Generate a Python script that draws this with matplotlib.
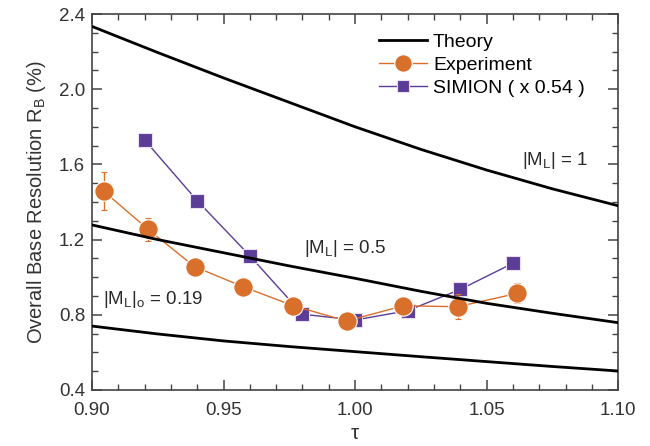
import numpy as np
import matplotlib.pyplot as plt
from matplotlib.ticker import MultipleLocator

plt.rcParams['font.family'] = ['Liberation Sans', 'DejaVu Sans']
plt.rcParams['mathtext.default'] = 'regular'

# theory curves
tau_theory = [0.90, 0.925, 0.95, 0.975, 1.00, 1.025, 1.05, 1.075, 1.10]
theory_ml1 = [2.334, 2.195, 2.06, 1.93, 1.80, 1.68, 1.57, 1.47, 1.38]
theory_ml05 = [1.278, 1.20, 1.13, 1.06, 0.994, 0.925, 0.861, 0.808, 0.758]
theory_ml019 = [0.740, 0.698, 0.661, 0.631, 0.604, 0.577, 0.551, 0.525, 0.501]

# experiment
tau_exp = [0.9044, 0.9213, 0.939, 0.9575, 0.9765, 0.9968, 1.0184, 1.039, 1.0617]
r_exp = [1.458, 1.255, 1.056, 0.949, 0.848, 0.767, 0.848, 0.843, 0.914]
err_exp = [0.10, 0.06, 0.02, 0.02, 0.02, 0.02, 0.02, 0.065, 0.053]

# SIMION (scaled x 0.54)
tau_sim = [0.92, 0.94, 0.96, 0.98, 1.00, 1.02, 1.04, 1.06]
r_sim = [1.730, 1.407, 1.114, 0.803, 0.772, 0.822, 0.935, 1.074]

orange = '#D8702B'
purple = '#5B3C97'
grey = '#444444'
txt = '#2a2a2a'

fig = plt.figure(figsize=(6.5, 4.46), dpi=100)
ax = fig.add_axes([0.1415, 0.1256, 0.8095, 0.843])

h_th, = ax.plot(tau_theory, theory_ml1, color='black', lw=2.0, zorder=4)
ax.plot(tau_theory, theory_ml05, color='black', lw=2.0, zorder=4)
ax.plot(tau_theory, theory_ml019, color='black', lw=2.0, zorder=4)

h_exp = ax.errorbar(tau_exp, r_exp, yerr=err_exp, color=orange, lw=1.0, marker='o',
                    ms=14, mec='white', mew=0.8, capsize=2.5, elinewidth=1.0,
                    zorder=3)
h_sim, = ax.plot(tau_sim, r_sim, color=purple, lw=1.0, marker='s', ms=10,
                 mec='#E8E0F0', mew=0.8, zorder=2)

ax.text(1.0635, 1.62, '|M$_L$| = 1', fontsize=13.5, va='center', color=txt)
ax.text(0.9806, 1.15, '|M$_L$| = 0.5', fontsize=13.5, va='center', color=txt)
ax.text(0.9042, 0.88, '|M$_L$|$_o$ = 0.19', fontsize=13.5, va='center', color=txt)

ax.set_xlim(0.90, 1.10)
ax.set_ylim(0.4, 2.4)
ax.xaxis.set_major_locator(MultipleLocator(0.05))
ax.xaxis.set_minor_locator(MultipleLocator(0.01))
ax.yaxis.set_major_locator(MultipleLocator(0.4))
ax.yaxis.set_minor_locator(MultipleLocator(0.1))
ax.xaxis.set_major_formatter(plt.FormatStrFormatter('%.2f'))
ax.yaxis.set_major_formatter(plt.FormatStrFormatter('%.1f'))

ax.tick_params(which='both', direction='in', top=True, right=True,
               color=grey, labelsize=13.5, labelcolor='#333333')
ax.tick_params(which='major', length=7, width=1.1)
ax.tick_params(axis='x', which='major', pad=9)
ax.tick_params(axis='y', which='major', pad=5)
ax.tick_params(which='minor', length=4, width=1.0)
for s in ax.spines.values():
    s.set_color(grey)
    s.set_linewidth(1.2)

ax.set_xlabel('τ', fontsize=15, color='#333333', labelpad=3)
ax.set_ylabel('Overall Base Resolution R$_B$ (%)', fontsize=14.5,
              color='#333333', labelpad=8)

ax.legend([h_th, h_exp[0], h_sim], ['Theory', 'Experiment', 'SIMION ( x 0.54 )'],
          loc='upper left', bbox_to_anchor=(0.53, 0.97), frameon=False,
          fontsize=14, handlelength=2.5, labelspacing=0.28,
          handletextpad=0.3, borderaxespad=0, markerscale=0.9)

fig.savefig('out.png', dpi=100)
